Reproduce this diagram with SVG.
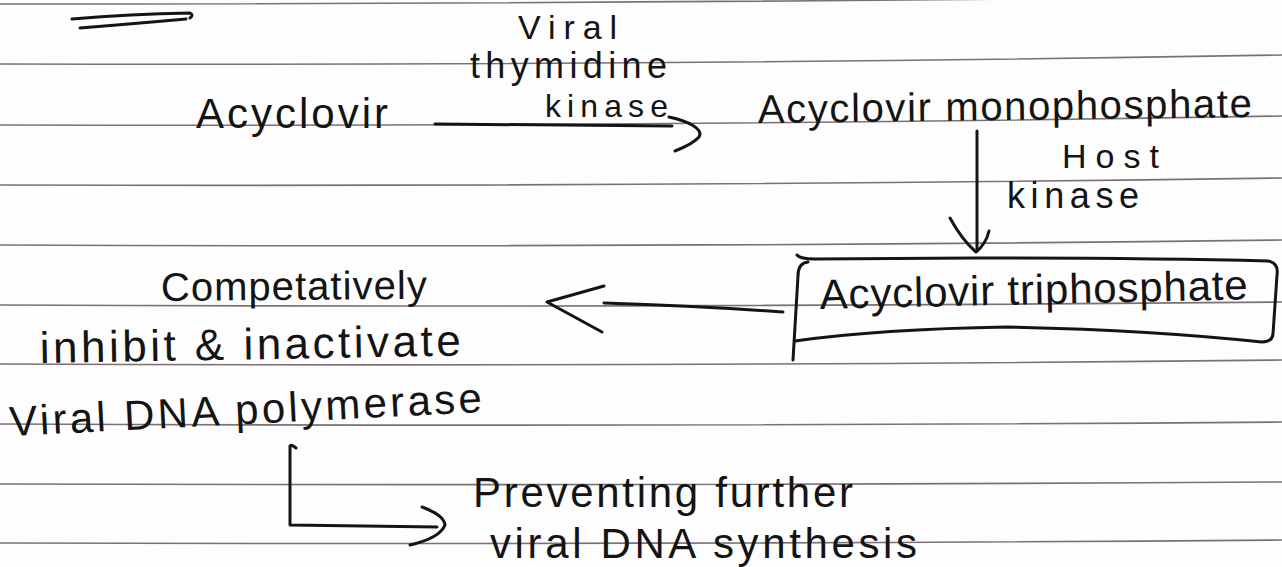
<svg xmlns="http://www.w3.org/2000/svg" width="1282" height="567" viewBox="0 0 1282 567">
<style>
.rule{fill:none;stroke:#5e4b55;stroke-width:1.6;stroke-opacity:0.8}
.ink{fill:none;stroke:#141414;stroke-width:3;stroke-linecap:round;stroke-linejoin:round}
.t{font-family:"Liberation Sans","DejaVu Sans",sans-serif;fill:#141414}
</style>
<rect width="1282" height="567" fill="#fdfdfd"/>
<g id="ruled-lines">
<path class="rule" d="M0,4 Q640,4 1282,-4"/>
<path class="rule" d="M0,64 Q640,66 1282,55"/>
<path class="rule" d="M0,125 Q640,127 1282,116"/>
<path class="rule" d="M0,185 Q640,187 1282,178"/>
<path class="rule" d="M0,245 Q640,248 1282,240"/>
<path class="rule" d="M0,305 Q640,308 1282,302"/>
<path class="rule" d="M0,364 Q640,367 1282,360"/>
<path class="rule" d="M0,424 Q640,427 1282,422"/>
<path class="rule" d="M0,484 Q640,486 1282,482"/>
<path class="rule" d="M0,543 Q640,545 1282,540"/>
</g>
<g id="heading-underline">
<path class="ink" d="M72,19 Q130,14 190,13 Q194,15 190,18"/>
<path class="ink" d="M80,28 Q130,24 186,19"/>
</g>
<g id="node-acyclovir">
<text class="t" x="196" y="128" font-size="42" textLength="192" lengthAdjust="spacing">Acyclovir</text>
</g>
<g id="label-viral-thymidine-kinase">
<text class="t" x="518" y="39" font-size="34" textLength="99" lengthAdjust="spacing">Viral</text>
<text class="t" x="470" y="78" font-size="36" textLength="197" lengthAdjust="spacing">thymidine</text>
<text class="t" x="545" y="117" font-size="32" textLength="123" lengthAdjust="spacing">kinase</text>
</g>
<g id="node-monophosphate">
<text class="t" x="758" y="123" font-size="40" textLength="494" lengthAdjust="spacing" transform="rotate(-0.7 758 123)">Acyclovir monophosphate</text>
</g>
<g id="label-host-kinase">
<text class="t" x="1062" y="168" font-size="34" textLength="97" lengthAdjust="spacing">Host</text>
<text class="t" x="1007" y="208" font-size="36" textLength="132" lengthAdjust="spacing">kinase</text>
</g>
<g id="node-triphosphate">
<path class="ink" d="M797,255 Q800,259 815,259 L975,258 Q1150,258 1268,261 Q1279,263 1277,275 L1273,334 Q1272,342 1262,342 Q1150,330 1007,327 Q880,329 795,341"/>
<path class="ink" d="M808,262 Q798,263 798,276 L793,360"/>
<text class="t" x="820" y="309" font-size="42" textLength="428" lengthAdjust="spacing" transform="rotate(-1.3 820 309)">Acyclovir triphosphate</text>
</g>
<g id="node-inhibit">
<text class="t" x="161" y="301" font-size="40" textLength="266" lengthAdjust="spacing" transform="rotate(-0.5 161 301)">Competatively</text>
<text class="t" x="40" y="363" font-size="44" textLength="421" lengthAdjust="spacing" transform="rotate(-1 40 363)">inhibit &amp; inactivate</text>
<text class="t" x="10" y="436" font-size="42" textLength="473" lengthAdjust="spacing" transform="rotate(-2.9 10 436)">Viral DNA polymerase</text>
</g>
<g id="node-preventing">
<text class="t" x="473" y="507" font-size="42" textLength="380" lengthAdjust="spacing">Preventing further</text>
<text class="t" x="490" y="558" font-size="42" textLength="427" lengthAdjust="spacing">viral DNA synthesis</text>
</g>
<g id="connectors">
<path class="ink" d="M435,124 Q550,125 672,126"/>
<path class="ink" d="M669,117 C688,121 704,129 699,137 C694,143 685,147 675,151"/>
<path class="ink" d="M977,131 L977,250"/>
<path class="ink" d="M950,218 Q962,240 976,252 Q986,244 989,231"/>
<path class="ink" d="M783,312 Q700,306 604,303"/>
<path class="ink" d="M604,286 L547,302 L602,332"/>
<path class="ink" d="M296,448 Q291,444 290,446 L290,525 L437,527"/>
<path class="ink" d="M422,507 Q444,515 445,525 Q440,538 410,545"/>
</g>
</svg>
